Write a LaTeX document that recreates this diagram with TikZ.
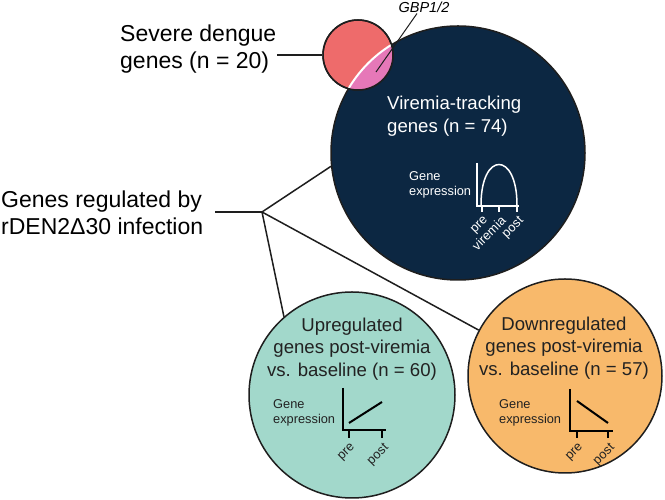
\documentclass[tikz,border=0pt]{standalone}
\usepackage{fontspec}
\setmainfont{Liberation Sans}
\usetikzlibrary{shapes.geometric}
\definecolor{navyfill}{HTML}{0C2742}
\definecolor{redfill}{HTML}{EE6B6B}
\definecolor{pinkfill}{HTML}{E678B8}
\definecolor{greenfill}{HTML}{A2D8CB}
\definecolor{orangefill}{HTML}{F8B96B}
\definecolor{edgegray}{HTML}{1E1E1E}
\definecolor{textgray}{HTML}{222222}
\tikzstyle{bubble} = [circle, draw=edgegray, line width=1.5pt, inner sep=0pt]
\tikzstyle{biglabel} = [font=\fontsize{23}{27}\selectfont, align=left, inner sep=1pt, text=black]
\tikzstyle{circlelabel} = [font=\fontsize{18.6}{22.5}\selectfont, align=center, inner sep=0pt]
\tikzstyle{smalllabel} = [font=\fontsize{12.8}{15.5}\selectfont, align=left, inner sep=0pt]
\tikzstyle{ticklabel} = [font=\fontsize{12.8}{14}\selectfont, rotate=45, anchor=north east, inner sep=0pt]
\tikzstyle{link} = [line width=1.5pt, draw=edgegray]
\tikzstyle{axis} = [line width=2pt]

\begin{document}
\begin{tikzpicture}[x=1pt, y=1pt]
\useasboundingbox (0,0) rectangle (665,500);
\node (viremia) [bubble, fill=navyfill, minimum size=254pt] at (458,347) {};
\node (severe) [bubble, fill=redfill, minimum size=70pt] at (358,445) {};
\begin{scope}
\clip (severe.center) circle (35);
\fill [pinkfill] (viremia.center) circle (127);
\draw [white, line width=2pt] (viremia.center) circle (127);
\end{scope}
\draw [link] (severe.center) circle (35);
\node (upreg) [bubble, fill=greenfill, minimum size=206pt] at (352,105) {};
\node (downreg) [bubble, fill=orangefill, minimum size=194pt] at (565,124) {};
\node (severetext) [biglabel, anchor=west] at (119,451) {Severe dengue\\genes (n = 20)};
\node (regulated) [biglabel, anchor=west] at (0,287) {Genes regulated by\\rDEN2Δ30 infection};
\coordinate (hub) at (262,288);
\coordinate (regend) at ([xshift=11pt]regulated.east);
\node (gbp) [font=\fontsize{14.5}{16}\selectfont\itshape, inner sep=1pt] at (424,493) {GBP1/2};
\coordinate (gbptip) at (376,428);
\node (viremiatext) [circlelabel, white, align=left, anchor=west] at (387,384) {Viremia-tracking\\genes (n = 74)};
\node (uptext) [circlelabel, text=textgray] at (352,151) {Upregulated\\genes post-viremia\\vs. baseline (n = 60)};
\node (downtext) [circlelabel, text=textgray] at (564,152) {Downregulated\\genes post-viremia\\vs. baseline (n = 57)};

\node (vgene) [smalllabel, white, anchor=west] at (409,315) {Gene\\expression};
\draw [axis, white] (477,337) -- (477,294) -- (519,294);
\foreach \x in {482,499,517} \draw [axis, white] (\x,294) -- (\x,288);
\draw [axis, white, line width=1.5pt] (481,295) .. controls (481,349) and (517,349) .. (517,295);
\node (vpre) [ticklabel, white] at (483,285) {pre};
\node (vpeak) [ticklabel, white] at (500,285) {viremia};
\node (vpost) [ticklabel, white] at (518,285) {post};

\node (ugene) [smalllabel, text=textgray, anchor=west] at (273,87) {Gene\\expression};
\draw [axis] (343,112) -- (343,70) -- (386,70);
\foreach \x in {349,382} \draw [axis] (\x,70) -- (\x,62);
\draw [axis] (349,77) -- (382,98);
\node (upre) [ticklabel, text=textgray] at (350,58) {pre};
\node (upost) [ticklabel, text=textgray] at (383,58) {post};

\node (dgene) [smalllabel, text=textgray, anchor=west] at (499,87) {Gene\\expression};
\draw [axis] (570,111) -- (570,69) -- (613,69);
\foreach \x in {577,608} \draw [axis] (\x,69) -- (\x,62);
\draw [axis] (577,99) -- (608,77);
\node (dpre) [ticklabel, text=textgray] at (578,58) {pre};
\node (dpost) [ticklabel, text=textgray] at (609,58) {post};

\draw [link] (severetext.east |- severe.west) -- (severe.west);
\draw [link] (regend |- hub) -- (hub);
\draw [link] (hub) -- (viremia.186);
\draw [link] (hub) -- (upreg.131);
\draw [link] (hub) -- (downreg.152);
\draw [link, line width=1pt] ([xshift=-7pt]gbp.south) -- (gbptip);
\end{tikzpicture}
\end{document}
